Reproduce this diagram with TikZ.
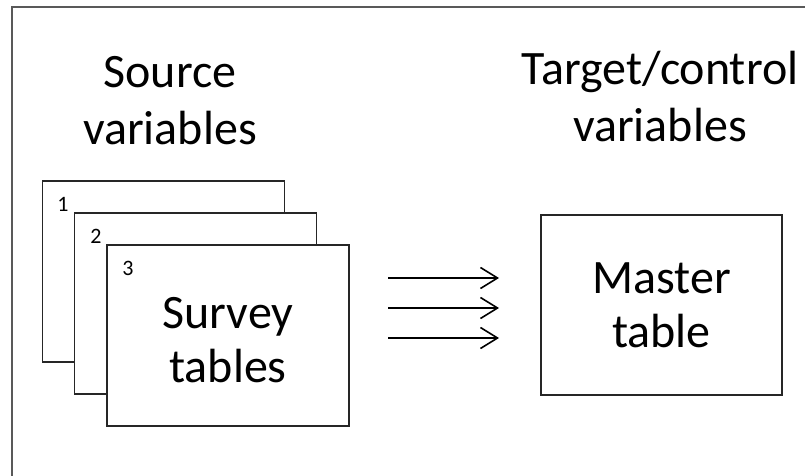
\documentclass[tikz,border=0pt]{standalone}
\usepackage{fontspec}
\setmainfont{Carlito}
\usetikzlibrary{arrows.meta}

\tikzset{
  sheet/.style={draw=black!85,line width=1.3pt,fill=white,minimum width=242pt,minimum height=181pt,
    inner sep=0pt,align=center,font=\fontsize{48}{54}\selectfont},
  tabno/.style={inner sep=0pt,font=\fontsize{22}{26}\selectfont},
  heading/.style={inner sep=0pt,align=center,font=\fontsize{48}{57}\selectfont},
  flow/.style={line width=1.6pt,-{Straight Barb[length=17pt,width=21pt]}}
}

\begin{document}
\begin{tikzpicture}[x=1pt,y=-1pt]
  \clip (0,0) rectangle (805,476);
%outer frame (only top and left edge in view)
  \draw[draw=black!65,line width=1.5pt] (12,7) rectangle (840,510);
%headings
  \node[heading] (src) at (170,101) {Source\\variables};
  \node[heading] (tgt) at (660,97) {Target/control\\variables};
%survey tables, back to front
  \node[sheet] (t1) at (163.5,271.5) {};
  \node[tabno] (n1) at (63,204) {1};
  \node[sheet] (t2) at (195.5,303.5) {};
  \node[tabno] (n2) at (96,236) {2};
  \node[sheet] (t3) at (228,335.5) {\rule{0pt}{41pt}Survey\\tables};
  \node[tabno] (n3) at (128,268) {3};
%master table
  \node[sheet,minimum width=241pt,minimum height=180pt] (master) at (661.5,305) {Master\\table};
%arrows
  \coordinate (a1) at (388,278);
  \coordinate (b1) at (499,278);
  \coordinate (a2) at (388,308);
  \coordinate (b2) at (499,308);
  \coordinate (a3) at (388,338);
  \coordinate (b3) at (499,338);
  \draw[flow] (a1) -- (b1);
  \draw[flow] (a2) -- (b2);
  \draw[flow] (a3) -- (b3);
\end{tikzpicture}
\end{document}
